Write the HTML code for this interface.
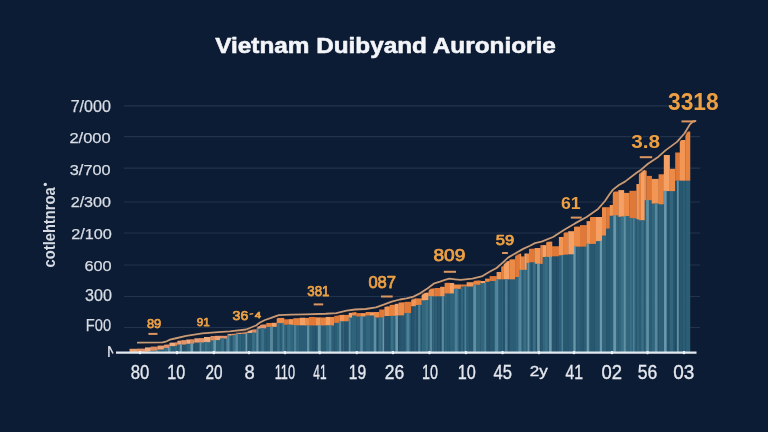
<!DOCTYPE html>
<html><head><meta charset="utf-8"><style>
html,body{margin:0;padding:0;background:#0d1c35;width:768px;height:432px;overflow:hidden}
svg{display:block;filter:blur(0.3px)}
text{font-family:"Liberation Sans",sans-serif}
.tt{fill:#f3f5f9;stroke:#f3f5f9;stroke-width:0.6px;stroke-linejoin:round}
.yl{fill:#d8dde5;stroke:#d8dde5;stroke-width:0.25px}
.xl{fill:#e4e8ee;stroke:#e4e8ee;stroke-width:0.35px}
.ol{fill:#eda043;stroke:#0d1c35;stroke-width:2.5px;paint-order:stroke;stroke-linejoin:round}
.rl{fill:#d6dbe3}
.olr{fill:#eda043;stroke:#eda043;stroke-width:0.75px;stroke-linejoin:round}
</style></head><body>
<svg width="768" height="432" viewBox="0 0 768 432">
<rect width="768" height="432" fill="#0d1c35"/>
<line x1="124" y1="105.8" x2="700" y2="105.8" stroke="#22334d" stroke-width="1.2"/>
<line x1="124" y1="136.6" x2="700" y2="136.6" stroke="#22334d" stroke-width="1.2"/>
<line x1="124" y1="168.2" x2="700" y2="168.2" stroke="#22334d" stroke-width="1.2"/>
<line x1="124" y1="202" x2="700" y2="202" stroke="#22334d" stroke-width="1.2"/>
<line x1="124" y1="233" x2="700" y2="233" stroke="#22334d" stroke-width="1.2"/>
<line x1="124" y1="265" x2="700" y2="265" stroke="#22334d" stroke-width="1.2"/>
<line x1="124" y1="296.5" x2="700" y2="296.5" stroke="#22334d" stroke-width="1.2"/>
<line x1="124" y1="327.5" x2="700" y2="327.5" stroke="#22334d" stroke-width="1.2"/>
<rect x="129.50" y="352.00" width="4.25" height="0.60" fill="#26526c"/>
<rect x="133.50" y="352.00" width="3.75" height="0.60" fill="#31667c"/>
<rect x="129.50" y="348.80" width="7.75" height="3.50" fill="#eaa070"/>
<rect x="137.00" y="352.00" width="4.25" height="0.60" fill="#26526c"/>
<rect x="141.00" y="352.00" width="4.25" height="0.60" fill="#26526c"/>
<rect x="137.00" y="348.60" width="8.25" height="3.70" fill="#e4946a"/>
<rect x="145.00" y="351.50" width="3.25" height="1.10" fill="#2e6379"/>
<rect x="148.00" y="351.50" width="2.95" height="1.10" fill="#26526c"/>
<rect x="145.00" y="347.40" width="5.95" height="4.40" fill="#f0aa7c"/>
<rect x="150.70" y="350.50" width="4.25" height="2.10" fill="#2c5f77"/>
<rect x="154.70" y="350.50" width="3.15" height="2.10" fill="#2e6379"/>
<rect x="150.70" y="346.60" width="7.15" height="4.20" fill="#dd8c60"/>
<rect x="157.60" y="349.30" width="2.75" height="3.30" fill="#31667c"/>
<rect x="160.10" y="349.30" width="4.05" height="3.30" fill="#2e6379"/>
<rect x="157.60" y="345.60" width="6.55" height="4.00" fill="#eaa070"/>
<rect x="163.90" y="347.80" width="2.75" height="4.80" fill="#26526c"/>
<rect x="166.40" y="347.80" width="3.25" height="4.80" fill="#2c5f77"/>
<rect x="163.90" y="344.50" width="5.75" height="3.60" fill="#e4946a"/>
<rect x="169.40" y="345.80" width="5.85" height="6.80" fill="#2b5e76"/>
<rect x="169.40" y="342.60" width="5.85" height="3.50" fill="#f0aa7c"/>
<rect x="175.00" y="345.50" width="2.55" height="7.10" fill="#31667c"/>
<rect x="175.00" y="342.30" width="2.55" height="3.50" fill="#dd8c60"/>
<rect x="177.30" y="344.30" width="4.45" height="8.30" fill="#2c5f77"/>
<rect x="177.30" y="340.60" width="4.45" height="4.00" fill="#eaa070"/>
<rect x="181.50" y="344.30" width="4.95" height="8.30" fill="#26526c"/>
<rect x="181.50" y="340.10" width="4.95" height="4.50" fill="#e4946a"/>
<rect x="186.20" y="343.50" width="4.05" height="9.10" fill="#2e6379"/>
<rect x="186.20" y="339.50" width="4.05" height="4.30" fill="#f0aa7c"/>
<rect x="190.00" y="343.50" width="4.55" height="9.10" fill="#2b5e76"/>
<rect x="190.00" y="339.30" width="4.55" height="4.50" fill="#dd8c60"/>
<rect x="194.30" y="342.30" width="4.95" height="10.30" fill="#26526c"/>
<rect x="194.30" y="338.30" width="4.95" height="4.30" fill="#eaa070"/>
<rect x="199.00" y="342.30" width="2.75" height="10.30" fill="#2b5e76"/>
<rect x="201.50" y="342.30" width="2.75" height="10.30" fill="#2e6379"/>
<rect x="199.00" y="338.10" width="5.25" height="4.50" fill="#e4946a"/>
<rect x="204.00" y="341.90" width="3.25" height="10.70" fill="#26526c"/>
<rect x="207.00" y="341.90" width="3.75" height="10.70" fill="#31667c"/>
<rect x="204.00" y="337.00" width="6.75" height="5.20" fill="#f0aa7c"/>
<rect x="210.50" y="340.00" width="4.75" height="12.60" fill="#31667c"/>
<rect x="210.50" y="336.00" width="4.75" height="4.30" fill="#dd8c60"/>
<rect x="215.00" y="339.80" width="5.25" height="12.80" fill="#2e6379"/>
<rect x="215.00" y="335.80" width="5.25" height="4.30" fill="#eaa070"/>
<rect x="220.00" y="338.30" width="4.75" height="14.30" fill="#2e6379"/>
<rect x="224.50" y="338.30" width="3.25" height="14.30" fill="#285870"/>
<rect x="220.00" y="335.80" width="7.75" height="2.80" fill="#e4946a"/>
<rect x="227.50" y="335.30" width="4.25" height="17.30" fill="#2b5e76"/>
<rect x="227.50" y="333.80" width="4.25" height="1.80" fill="#f0aa7c"/>
<rect x="231.50" y="335.10" width="4.55" height="17.50" fill="#2b5e76"/>
<rect x="231.50" y="333.40" width="4.55" height="2.00" fill="#dd8c60"/>
<rect x="235.80" y="333.70" width="4.25" height="18.90" fill="#2c5f77"/>
<rect x="239.80" y="333.70" width="1.95" height="18.90" fill="#31667c"/>
<rect x="235.80" y="331.80" width="5.95" height="2.20" fill="#eaa070"/>
<rect x="241.50" y="333.50" width="6.05" height="19.10" fill="#2b5e76"/>
<rect x="241.50" y="331.40" width="6.05" height="2.40" fill="#e4946a"/>
<rect x="247.30" y="332.70" width="4.95" height="19.90" fill="#285870"/>
<rect x="247.30" y="329.70" width="4.95" height="3.30" fill="#f0aa7c"/>
<rect x="252.00" y="332.50" width="4.95" height="20.10" fill="#2e6379"/>
<rect x="252.00" y="329.30" width="4.95" height="3.50" fill="#dd8c60"/>
<rect x="256.70" y="328.40" width="3.55" height="24.20" fill="#285870"/>
<rect x="256.70" y="326.00" width="3.55" height="2.70" fill="#eaa070"/>
<rect x="260.00" y="328.10" width="2.75" height="24.50" fill="#2b5e76"/>
<rect x="262.50" y="328.10" width="4.00" height="24.50" fill="#2b5e76"/>
<rect x="260.00" y="324.50" width="6.50" height="3.90" fill="#e4946a"/>
<rect x="266.25" y="326.60" width="5.50" height="26.00" fill="#2b5e76"/>
<rect x="266.25" y="323.00" width="5.50" height="3.90" fill="#e8823f"/>
<rect x="271.50" y="326.60" width="5.45" height="26.00" fill="#285870"/>
<rect x="271.50" y="322.80" width="5.45" height="4.10" fill="#f5a064"/>
<rect x="276.70" y="322.90" width="4.25" height="29.70" fill="#2b5e76"/>
<rect x="280.70" y="322.90" width="3.55" height="29.70" fill="#2c5f77"/>
<rect x="276.70" y="317.90" width="7.55" height="5.30" fill="#ec8a48"/>
<rect x="284.00" y="324.50" width="2.75" height="28.10" fill="#2e6379"/>
<rect x="286.50" y="324.50" width="2.35" height="28.10" fill="#2b5e76"/>
<rect x="284.00" y="319.30" width="4.85" height="5.50" fill="#e07838"/>
<rect x="288.60" y="324.50" width="4.95" height="28.10" fill="#31667c"/>
<rect x="288.60" y="319.10" width="4.95" height="5.70" fill="#f29656"/>
<rect x="293.30" y="325.00" width="6.55" height="27.60" fill="#31667c"/>
<rect x="293.30" y="318.20" width="6.55" height="7.10" fill="#e8823f"/>
<rect x="299.60" y="325.00" width="5.65" height="27.60" fill="#2b5e76"/>
<rect x="299.60" y="317.70" width="5.65" height="7.60" fill="#f5a064"/>
<rect x="305.00" y="325.20" width="4.25" height="27.40" fill="#2c5f77"/>
<rect x="305.00" y="317.90" width="4.25" height="7.60" fill="#ec8a48"/>
<rect x="309.00" y="325.20" width="3.25" height="27.40" fill="#2c5f77"/>
<rect x="312.00" y="325.20" width="3.65" height="27.40" fill="#285870"/>
<rect x="309.00" y="316.90" width="6.65" height="8.60" fill="#e07838"/>
<rect x="315.40" y="325.20" width="2.75" height="27.40" fill="#285870"/>
<rect x="317.90" y="325.20" width="2.95" height="27.40" fill="#2b5e76"/>
<rect x="315.40" y="317.40" width="5.45" height="8.10" fill="#f29656"/>
<rect x="320.60" y="325.20" width="5.45" height="27.40" fill="#2b5e76"/>
<rect x="320.60" y="317.50" width="5.45" height="8.00" fill="#e8823f"/>
<rect x="325.80" y="325.20" width="4.45" height="27.40" fill="#2e6379"/>
<rect x="325.80" y="316.90" width="4.45" height="8.60" fill="#f5a064"/>
<rect x="330.00" y="325.20" width="4.45" height="27.40" fill="#2b5e76"/>
<rect x="330.00" y="317.00" width="4.45" height="8.50" fill="#ec8a48"/>
<rect x="334.20" y="322.60" width="2.75" height="30.00" fill="#2b5e76"/>
<rect x="336.70" y="322.60" width="2.95" height="30.00" fill="#31667c"/>
<rect x="334.20" y="315.30" width="5.45" height="7.60" fill="#e07838"/>
<rect x="339.40" y="321.00" width="3.25" height="31.60" fill="#2c5f77"/>
<rect x="342.40" y="321.00" width="1.85" height="31.60" fill="#2e6379"/>
<rect x="339.40" y="314.80" width="4.85" height="6.50" fill="#f29656"/>
<rect x="344.00" y="321.00" width="5.00" height="31.60" fill="#26526c"/>
<rect x="344.00" y="314.90" width="5.00" height="6.40" fill="#e8823f"/>
<rect x="348.75" y="317.40" width="3.50" height="35.20" fill="#2c5f77"/>
<rect x="348.75" y="312.60" width="3.50" height="5.10" fill="#f5a064"/>
<rect x="352.00" y="315.20" width="4.50" height="37.40" fill="#2e6379"/>
<rect x="352.00" y="312.00" width="4.50" height="3.50" fill="#ec8a48"/>
<rect x="356.25" y="316.25" width="5.00" height="36.35" fill="#2c5f77"/>
<rect x="356.25" y="313.10" width="5.00" height="3.45" fill="#e07838"/>
<rect x="361.00" y="316.25" width="4.85" height="36.35" fill="#2b5e76"/>
<rect x="361.00" y="313.10" width="4.85" height="3.45" fill="#f29656"/>
<rect x="365.60" y="315.20" width="4.65" height="37.40" fill="#31667c"/>
<rect x="365.60" y="312.00" width="4.65" height="3.50" fill="#e8823f"/>
<rect x="370.00" y="315.20" width="4.25" height="37.40" fill="#2b5e76"/>
<rect x="370.00" y="312.20" width="4.25" height="3.30" fill="#f5a064"/>
<rect x="374.00" y="317.30" width="3.75" height="35.30" fill="#26526c"/>
<rect x="377.50" y="317.30" width="1.95" height="35.30" fill="#2b5e76"/>
<rect x="374.00" y="312.00" width="5.45" height="5.60" fill="#ec8a48"/>
<rect x="379.20" y="317.30" width="3.25" height="35.30" fill="#2e6379"/>
<rect x="382.20" y="317.30" width="2.45" height="35.30" fill="#26526c"/>
<rect x="379.20" y="309.50" width="5.45" height="8.10" fill="#e07838"/>
<rect x="384.40" y="315.70" width="5.45" height="36.90" fill="#26526c"/>
<rect x="384.40" y="306.40" width="5.45" height="9.60" fill="#f29656"/>
<rect x="389.60" y="315.70" width="2.75" height="36.90" fill="#2b5e76"/>
<rect x="392.10" y="315.70" width="2.95" height="36.90" fill="#2e6379"/>
<rect x="389.60" y="304.80" width="5.45" height="11.20" fill="#e8823f"/>
<rect x="394.80" y="315.50" width="3.95" height="37.10" fill="#285870"/>
<rect x="394.80" y="303.80" width="3.95" height="12.00" fill="#f5a064"/>
<rect x="398.50" y="315.10" width="2.75" height="37.50" fill="#26526c"/>
<rect x="401.00" y="315.10" width="3.55" height="37.50" fill="#285870"/>
<rect x="398.50" y="302.40" width="6.05" height="13.00" fill="#ec8a48"/>
<rect x="404.30" y="312.80" width="4.25" height="39.80" fill="#2b5e76"/>
<rect x="408.30" y="312.80" width="3.15" height="39.80" fill="#2b5e76"/>
<rect x="404.30" y="301.80" width="7.15" height="11.30" fill="#e07838"/>
<rect x="411.20" y="305.90" width="3.25" height="46.70" fill="#26526c"/>
<rect x="414.20" y="305.90" width="1.85" height="46.70" fill="#2e6379"/>
<rect x="411.20" y="297.80" width="4.85" height="8.40" fill="#f29656"/>
<rect x="415.80" y="304.70" width="2.75" height="47.90" fill="#26526c"/>
<rect x="418.30" y="304.70" width="3.55" height="47.90" fill="#285870"/>
<rect x="415.80" y="298.40" width="6.05" height="6.60" fill="#e8823f"/>
<rect x="421.60" y="300.00" width="4.75" height="52.60" fill="#31667c"/>
<rect x="426.10" y="300.00" width="2.75" height="52.60" fill="#26526c"/>
<rect x="421.60" y="292.60" width="7.25" height="7.70" fill="#f5a064"/>
<rect x="428.60" y="296.00" width="4.25" height="56.60" fill="#26526c"/>
<rect x="432.60" y="296.00" width="2.05" height="56.60" fill="#31667c"/>
<rect x="428.60" y="288.50" width="6.05" height="7.80" fill="#ec8a48"/>
<rect x="434.40" y="296.00" width="3.25" height="56.60" fill="#2c5f77"/>
<rect x="437.40" y="296.00" width="2.95" height="56.60" fill="#285870"/>
<rect x="434.40" y="288.00" width="5.95" height="8.30" fill="#e07838"/>
<rect x="440.10" y="296.00" width="3.25" height="56.60" fill="#26526c"/>
<rect x="443.10" y="296.00" width="1.75" height="56.60" fill="#2c5f77"/>
<rect x="440.10" y="286.80" width="4.75" height="9.50" fill="#f29656"/>
<rect x="444.60" y="293.20" width="3.25" height="59.40" fill="#2e6379"/>
<rect x="447.60" y="293.20" width="1.95" height="59.40" fill="#2c5f77"/>
<rect x="444.60" y="282.80" width="4.95" height="10.70" fill="#e8823f"/>
<rect x="449.30" y="293.20" width="4.85" height="59.40" fill="#2e6379"/>
<rect x="449.30" y="283.00" width="4.85" height="10.50" fill="#f5a064"/>
<rect x="453.90" y="288.60" width="5.25" height="64.00" fill="#31667c"/>
<rect x="458.90" y="288.60" width="2.15" height="64.00" fill="#26526c"/>
<rect x="453.90" y="284.50" width="7.15" height="4.40" fill="#ec8a48"/>
<rect x="460.80" y="286.25" width="2.75" height="66.35" fill="#31667c"/>
<rect x="463.30" y="286.25" width="3.55" height="66.35" fill="#2b5e76"/>
<rect x="460.80" y="284.50" width="6.05" height="2.05" fill="#e07838"/>
<rect x="466.60" y="286.25" width="2.75" height="66.35" fill="#2b5e76"/>
<rect x="469.10" y="286.25" width="4.75" height="66.35" fill="#285870"/>
<rect x="466.60" y="282.20" width="7.25" height="4.35" fill="#f29656"/>
<rect x="473.60" y="284.50" width="3.25" height="68.10" fill="#2c5f77"/>
<rect x="476.60" y="284.50" width="4.15" height="68.10" fill="#31667c"/>
<rect x="473.60" y="280.50" width="7.15" height="4.30" fill="#e8823f"/>
<rect x="480.50" y="282.80" width="4.85" height="69.80" fill="#31667c"/>
<rect x="480.50" y="281.00" width="4.85" height="2.10" fill="#f5a064"/>
<rect x="485.10" y="281.50" width="4.75" height="71.10" fill="#26526c"/>
<rect x="485.10" y="278.60" width="4.75" height="3.20" fill="#ec8a48"/>
<rect x="489.60" y="280.70" width="4.25" height="71.90" fill="#285870"/>
<rect x="493.60" y="280.70" width="3.25" height="71.90" fill="#2e6379"/>
<rect x="489.60" y="276.10" width="7.25" height="4.90" fill="#e07838"/>
<rect x="496.60" y="279.00" width="4.85" height="73.60" fill="#2b5e76"/>
<rect x="496.60" y="272.00" width="4.85" height="7.30" fill="#f29656"/>
<rect x="501.20" y="279.00" width="2.55" height="73.60" fill="#2e6379"/>
<rect x="501.20" y="266.25" width="2.55" height="13.05" fill="#e8823f"/>
<rect x="503.50" y="279.00" width="4.25" height="73.60" fill="#26526c"/>
<rect x="507.50" y="279.00" width="2.05" height="73.60" fill="#26526c"/>
<rect x="503.50" y="261.00" width="6.05" height="18.30" fill="#f5a064"/>
<rect x="509.30" y="279.00" width="6.05" height="73.60" fill="#2b5e76"/>
<rect x="509.30" y="259.30" width="6.05" height="20.00" fill="#ec8a48"/>
<rect x="515.10" y="276.70" width="4.85" height="75.90" fill="#2e6379"/>
<rect x="515.10" y="253.50" width="4.85" height="23.50" fill="#e07838"/>
<rect x="519.70" y="269.70" width="1.45" height="82.90" fill="#2c5f77"/>
<rect x="519.70" y="253.50" width="1.45" height="16.50" fill="#f29656"/>
<rect x="520.90" y="269.70" width="3.75" height="82.90" fill="#2b5e76"/>
<rect x="520.90" y="256.40" width="3.75" height="13.60" fill="#e8823f"/>
<rect x="524.40" y="269.70" width="2.55" height="82.90" fill="#31667c"/>
<rect x="524.40" y="253.50" width="2.55" height="16.50" fill="#f5a064"/>
<rect x="526.70" y="262.80" width="2.55" height="89.80" fill="#2e6379"/>
<rect x="526.70" y="253.50" width="2.55" height="9.60" fill="#ec8a48"/>
<rect x="529.00" y="262.00" width="2.75" height="90.60" fill="#2b5e76"/>
<rect x="531.50" y="262.00" width="3.35" height="90.60" fill="#285870"/>
<rect x="529.00" y="248.70" width="5.85" height="13.60" fill="#e07838"/>
<rect x="534.60" y="263.60" width="3.75" height="89.00" fill="#26526c"/>
<rect x="538.10" y="263.60" width="2.55" height="89.00" fill="#2e6379"/>
<rect x="534.60" y="248.00" width="6.05" height="15.90" fill="#f29656"/>
<rect x="540.40" y="263.60" width="2.55" height="89.00" fill="#285870"/>
<rect x="540.40" y="245.10" width="2.55" height="18.80" fill="#e8823f"/>
<rect x="542.70" y="256.70" width="3.75" height="95.90" fill="#31667c"/>
<rect x="542.70" y="245.10" width="3.75" height="11.90" fill="#f5a064"/>
<rect x="546.20" y="256.70" width="3.75" height="95.90" fill="#2c5f77"/>
<rect x="549.70" y="256.70" width="2.55" height="95.90" fill="#2c5f77"/>
<rect x="546.20" y="241.60" width="6.05" height="15.40" fill="#ec8a48"/>
<rect x="552.00" y="256.00" width="4.75" height="96.60" fill="#26526c"/>
<rect x="556.50" y="256.00" width="2.65" height="96.60" fill="#26526c"/>
<rect x="552.00" y="246.25" width="7.15" height="10.05" fill="#e07838"/>
<rect x="558.90" y="255.00" width="2.75" height="97.60" fill="#2b5e76"/>
<rect x="561.40" y="255.00" width="2.45" height="97.60" fill="#285870"/>
<rect x="558.90" y="237.00" width="4.95" height="18.30" fill="#f29656"/>
<rect x="563.60" y="254.40" width="4.85" height="98.20" fill="#285870"/>
<rect x="563.60" y="232.40" width="4.85" height="22.30" fill="#e8823f"/>
<rect x="568.20" y="254.00" width="2.75" height="98.60" fill="#2b5e76"/>
<rect x="570.70" y="254.00" width="3.55" height="98.60" fill="#2c5f77"/>
<rect x="568.20" y="231.20" width="6.05" height="23.10" fill="#f5a064"/>
<rect x="574.00" y="246.40" width="2.75" height="106.20" fill="#31667c"/>
<rect x="576.50" y="246.40" width="3.75" height="106.20" fill="#2c5f77"/>
<rect x="574.00" y="226.60" width="6.25" height="20.10" fill="#ec8a48"/>
<rect x="580.00" y="246.40" width="3.75" height="106.20" fill="#285870"/>
<rect x="583.50" y="246.40" width="3.35" height="106.20" fill="#2b5e76"/>
<rect x="580.00" y="225.10" width="6.85" height="21.60" fill="#e07838"/>
<rect x="586.60" y="243.60" width="3.65" height="109.00" fill="#31667c"/>
<rect x="586.60" y="221.10" width="3.65" height="22.80" fill="#f29656"/>
<rect x="590.00" y="243.60" width="4.75" height="109.00" fill="#285870"/>
<rect x="594.50" y="243.60" width="1.75" height="109.00" fill="#2b5e76"/>
<rect x="590.00" y="217.00" width="6.25" height="26.90" fill="#e8823f"/>
<rect x="596.00" y="240.80" width="6.25" height="111.80" fill="#2c5f77"/>
<rect x="596.00" y="217.00" width="6.25" height="24.10" fill="#f5a064"/>
<rect x="602.00" y="235.30" width="4.35" height="117.30" fill="#2e6379"/>
<rect x="602.00" y="207.20" width="4.35" height="28.40" fill="#ec8a48"/>
<rect x="606.10" y="228.30" width="3.85" height="124.30" fill="#285870"/>
<rect x="606.10" y="207.20" width="3.85" height="21.40" fill="#e07838"/>
<rect x="609.70" y="215.50" width="3.35" height="137.10" fill="#2b5e76"/>
<rect x="609.70" y="205.00" width="3.35" height="10.80" fill="#f29656"/>
<rect x="612.80" y="215.10" width="5.75" height="137.50" fill="#31667c"/>
<rect x="612.80" y="191.50" width="5.75" height="23.90" fill="#e8823f"/>
<rect x="618.30" y="216.50" width="2.75" height="136.10" fill="#31667c"/>
<rect x="620.80" y="216.50" width="3.35" height="136.10" fill="#2b5e76"/>
<rect x="618.30" y="190.10" width="5.85" height="26.70" fill="#f5a064"/>
<rect x="623.90" y="215.80" width="5.75" height="136.80" fill="#31667c"/>
<rect x="623.90" y="192.90" width="5.75" height="23.20" fill="#ec8a48"/>
<rect x="629.40" y="217.90" width="4.75" height="134.70" fill="#2b5e76"/>
<rect x="633.90" y="217.90" width="2.75" height="134.70" fill="#2c5f77"/>
<rect x="629.40" y="190.80" width="7.25" height="27.40" fill="#e07838"/>
<rect x="636.40" y="219.00" width="2.75" height="133.60" fill="#31667c"/>
<rect x="636.40" y="184.00" width="2.75" height="35.30" fill="#f29656"/>
<rect x="638.90" y="220.00" width="2.35" height="132.60" fill="#2b5e76"/>
<rect x="638.90" y="171.50" width="2.35" height="48.80" fill="#e8823f"/>
<rect x="641.00" y="220.00" width="3.95" height="132.60" fill="#2b5e76"/>
<rect x="641.00" y="169.80" width="3.95" height="50.50" fill="#f5a064"/>
<rect x="644.70" y="199.90" width="1.95" height="152.70" fill="#2b5e76"/>
<rect x="644.70" y="170.50" width="1.95" height="29.70" fill="#ec8a48"/>
<rect x="646.40" y="199.90" width="5.55" height="152.70" fill="#2b5e76"/>
<rect x="646.40" y="175.90" width="5.55" height="24.30" fill="#e07838"/>
<rect x="651.70" y="203.30" width="3.75" height="149.30" fill="#31667c"/>
<rect x="655.20" y="203.30" width="3.65" height="149.30" fill="#285870"/>
<rect x="651.70" y="178.90" width="7.15" height="24.70" fill="#f29656"/>
<rect x="658.60" y="204.00" width="5.45" height="148.60" fill="#2c5f77"/>
<rect x="658.60" y="174.30" width="5.45" height="30.00" fill="#e8823f"/>
<rect x="663.80" y="190.80" width="6.05" height="161.80" fill="#26526c"/>
<rect x="663.80" y="155.00" width="6.05" height="36.10" fill="#f5a064"/>
<rect x="669.60" y="190.80" width="4.25" height="161.80" fill="#31667c"/>
<rect x="673.60" y="190.80" width="1.85" height="161.80" fill="#26526c"/>
<rect x="669.60" y="168.80" width="5.85" height="22.30" fill="#ec8a48"/>
<rect x="675.20" y="180.40" width="2.75" height="172.20" fill="#26526c"/>
<rect x="677.70" y="180.40" width="2.35" height="172.20" fill="#26526c"/>
<rect x="675.20" y="152.50" width="4.85" height="28.20" fill="#e07838"/>
<rect x="679.80" y="180.40" width="2.75" height="172.20" fill="#285870"/>
<rect x="682.30" y="180.40" width="3.35" height="172.20" fill="#2b5e76"/>
<rect x="679.80" y="140.00" width="5.85" height="40.70" fill="#f29656"/>
<rect x="685.40" y="180.40" width="4.85" height="172.20" fill="#2b5e76"/>
<rect x="685.40" y="131.50" width="4.85" height="49.20" fill="#e8823f"/>
<clipPath id="bc"><rect x="129.50" y="352.00" width="7.75" height="0.60"/><rect x="137.00" y="352.00" width="8.25" height="0.60"/><rect x="145.00" y="351.50" width="5.95" height="1.10"/><rect x="150.70" y="350.50" width="7.15" height="2.10"/><rect x="157.60" y="349.30" width="6.55" height="3.30"/><rect x="163.90" y="347.80" width="5.75" height="4.80"/><rect x="169.40" y="345.80" width="5.85" height="6.80"/><rect x="175.00" y="345.50" width="2.55" height="7.10"/><rect x="177.30" y="344.30" width="4.45" height="8.30"/><rect x="181.50" y="344.30" width="4.95" height="8.30"/><rect x="186.20" y="343.50" width="4.05" height="9.10"/><rect x="190.00" y="343.50" width="4.55" height="9.10"/><rect x="194.30" y="342.30" width="4.95" height="10.30"/><rect x="199.00" y="342.30" width="5.25" height="10.30"/><rect x="204.00" y="341.90" width="6.75" height="10.70"/><rect x="210.50" y="340.00" width="4.75" height="12.60"/><rect x="215.00" y="339.80" width="5.25" height="12.80"/><rect x="220.00" y="338.30" width="7.75" height="14.30"/><rect x="227.50" y="335.30" width="4.25" height="17.30"/><rect x="231.50" y="335.10" width="4.55" height="17.50"/><rect x="235.80" y="333.70" width="5.95" height="18.90"/><rect x="241.50" y="333.50" width="6.05" height="19.10"/><rect x="247.30" y="332.70" width="4.95" height="19.90"/><rect x="252.00" y="332.50" width="4.95" height="20.10"/><rect x="256.70" y="328.40" width="3.55" height="24.20"/><rect x="260.00" y="328.10" width="6.50" height="24.50"/><rect x="266.25" y="326.60" width="5.50" height="26.00"/><rect x="271.50" y="326.60" width="5.45" height="26.00"/><rect x="276.70" y="322.90" width="7.55" height="29.70"/><rect x="284.00" y="324.50" width="4.85" height="28.10"/><rect x="288.60" y="324.50" width="4.95" height="28.10"/><rect x="293.30" y="325.00" width="6.55" height="27.60"/><rect x="299.60" y="325.00" width="5.65" height="27.60"/><rect x="305.00" y="325.20" width="4.25" height="27.40"/><rect x="309.00" y="325.20" width="6.65" height="27.40"/><rect x="315.40" y="325.20" width="5.45" height="27.40"/><rect x="320.60" y="325.20" width="5.45" height="27.40"/><rect x="325.80" y="325.20" width="4.45" height="27.40"/><rect x="330.00" y="325.20" width="4.45" height="27.40"/><rect x="334.20" y="322.60" width="5.45" height="30.00"/><rect x="339.40" y="321.00" width="4.85" height="31.60"/><rect x="344.00" y="321.00" width="5.00" height="31.60"/><rect x="348.75" y="317.40" width="3.50" height="35.20"/><rect x="352.00" y="315.20" width="4.50" height="37.40"/><rect x="356.25" y="316.25" width="5.00" height="36.35"/><rect x="361.00" y="316.25" width="4.85" height="36.35"/><rect x="365.60" y="315.20" width="4.65" height="37.40"/><rect x="370.00" y="315.20" width="4.25" height="37.40"/><rect x="374.00" y="317.30" width="5.45" height="35.30"/><rect x="379.20" y="317.30" width="5.45" height="35.30"/><rect x="384.40" y="315.70" width="5.45" height="36.90"/><rect x="389.60" y="315.70" width="5.45" height="36.90"/><rect x="394.80" y="315.50" width="3.95" height="37.10"/><rect x="398.50" y="315.10" width="6.05" height="37.50"/><rect x="404.30" y="312.80" width="7.15" height="39.80"/><rect x="411.20" y="305.90" width="4.85" height="46.70"/><rect x="415.80" y="304.70" width="6.05" height="47.90"/><rect x="421.60" y="300.00" width="7.25" height="52.60"/><rect x="428.60" y="296.00" width="6.05" height="56.60"/><rect x="434.40" y="296.00" width="5.95" height="56.60"/><rect x="440.10" y="296.00" width="4.75" height="56.60"/><rect x="444.60" y="293.20" width="4.95" height="59.40"/><rect x="449.30" y="293.20" width="4.85" height="59.40"/><rect x="453.90" y="288.60" width="7.15" height="64.00"/><rect x="460.80" y="286.25" width="6.05" height="66.35"/><rect x="466.60" y="286.25" width="7.25" height="66.35"/><rect x="473.60" y="284.50" width="7.15" height="68.10"/><rect x="480.50" y="282.80" width="4.85" height="69.80"/><rect x="485.10" y="281.50" width="4.75" height="71.10"/><rect x="489.60" y="280.70" width="7.25" height="71.90"/><rect x="496.60" y="279.00" width="4.85" height="73.60"/><rect x="501.20" y="279.00" width="2.55" height="73.60"/><rect x="503.50" y="279.00" width="6.05" height="73.60"/><rect x="509.30" y="279.00" width="6.05" height="73.60"/><rect x="515.10" y="276.70" width="4.85" height="75.90"/><rect x="519.70" y="269.70" width="1.45" height="82.90"/><rect x="520.90" y="269.70" width="3.75" height="82.90"/><rect x="524.40" y="269.70" width="2.55" height="82.90"/><rect x="526.70" y="262.80" width="2.55" height="89.80"/><rect x="529.00" y="262.00" width="5.85" height="90.60"/><rect x="534.60" y="263.60" width="6.05" height="89.00"/><rect x="540.40" y="263.60" width="2.55" height="89.00"/><rect x="542.70" y="256.70" width="3.75" height="95.90"/><rect x="546.20" y="256.70" width="6.05" height="95.90"/><rect x="552.00" y="256.00" width="7.15" height="96.60"/><rect x="558.90" y="255.00" width="4.95" height="97.60"/><rect x="563.60" y="254.40" width="4.85" height="98.20"/><rect x="568.20" y="254.00" width="6.05" height="98.60"/><rect x="574.00" y="246.40" width="6.25" height="106.20"/><rect x="580.00" y="246.40" width="6.85" height="106.20"/><rect x="586.60" y="243.60" width="3.65" height="109.00"/><rect x="590.00" y="243.60" width="6.25" height="109.00"/><rect x="596.00" y="240.80" width="6.25" height="111.80"/><rect x="602.00" y="235.30" width="4.35" height="117.30"/><rect x="606.10" y="228.30" width="3.85" height="124.30"/><rect x="609.70" y="215.50" width="3.35" height="137.10"/><rect x="612.80" y="215.10" width="5.75" height="137.50"/><rect x="618.30" y="216.50" width="5.85" height="136.10"/><rect x="623.90" y="215.80" width="5.75" height="136.80"/><rect x="629.40" y="217.90" width="7.25" height="134.70"/><rect x="636.40" y="219.00" width="2.75" height="133.60"/><rect x="638.90" y="220.00" width="2.35" height="132.60"/><rect x="641.00" y="220.00" width="3.95" height="132.60"/><rect x="644.70" y="199.90" width="1.95" height="152.70"/><rect x="646.40" y="199.90" width="5.55" height="152.70"/><rect x="651.70" y="203.30" width="7.15" height="149.30"/><rect x="658.60" y="204.00" width="5.45" height="148.60"/><rect x="663.80" y="190.80" width="6.05" height="161.80"/><rect x="669.60" y="190.80" width="5.85" height="161.80"/><rect x="675.20" y="180.40" width="4.85" height="172.20"/><rect x="679.80" y="180.40" width="5.85" height="172.20"/><rect x="685.40" y="180.40" width="4.85" height="172.20"/></clipPath>
<g clip-path="url(#bc)"><rect x="131.00" y="100" width="2.20" height="260" fill="#5f90a4"/><rect x="142.23" y="100" width="3.00" height="260" fill="#5689a0"/><rect x="148.16" y="100" width="2.92" height="260" fill="#3b7187"/><rect x="155.67" y="100" width="2.20" height="260" fill="#5689a0"/><rect x="164.44" y="100" width="2.49" height="260" fill="#3b7187"/><rect x="167.80" y="100" width="2.60" height="260" fill="#6a99ac"/><rect x="179.78" y="100" width="2.20" height="260" fill="#6a99ac"/><rect x="190.40" y="100" width="2.60" height="260" fill="#6a99ac"/><rect x="199.65" y="100" width="1.80" height="260" fill="#5f90a4"/><rect x="204.58" y="100" width="2.68" height="260" fill="#3b7187"/><rect x="213.37" y="100" width="2.60" height="260" fill="#6a99ac"/><rect x="221.13" y="100" width="3.01" height="260" fill="#3b7187"/><rect x="226.44" y="100" width="3.00" height="260" fill="#5689a0"/><rect x="233.11" y="100" width="2.06" height="260" fill="#3b7187"/><rect x="235.35" y="100" width="2.60" height="260" fill="#5689a0"/><rect x="245.55" y="100" width="1.80" height="260" fill="#6a99ac"/><rect x="252.22" y="100" width="2.40" height="260" fill="#3b7187"/><rect x="256.28" y="100" width="2.20" height="260" fill="#5f90a4"/><rect x="261.23" y="100" width="2.80" height="260" fill="#3b7187"/><rect x="270.19" y="100" width="2.60" height="260" fill="#5f90a4"/><rect x="277.29" y="100" width="2.27" height="260" fill="#3b7187"/><rect x="282.46" y="100" width="1.80" height="260" fill="#4c8098"/><rect x="287.26" y="100" width="3.17" height="260" fill="#3b7187"/><rect x="293.90" y="100" width="2.20" height="260" fill="#4c8098"/><rect x="307.07" y="100" width="2.20" height="260" fill="#5f90a4"/><rect x="317.82" y="100" width="3.00" height="260" fill="#6a99ac"/><rect x="326.35" y="100" width="2.01" height="260" fill="#3b7187"/><rect x="328.80" y="100" width="2.60" height="260" fill="#4c8098"/><rect x="339.10" y="100" width="1.80" height="260" fill="#5f90a4"/><rect x="348.77" y="100" width="1.80" height="260" fill="#5689a0"/><rect x="360.22" y="100" width="2.60" height="260" fill="#5689a0"/><rect x="373.73" y="100" width="2.60" height="260" fill="#5f90a4"/><rect x="379.05" y="100" width="2.41" height="260" fill="#3b7187"/><rect x="382.43" y="100" width="1.80" height="260" fill="#6a99ac"/><rect x="390.99" y="100" width="2.26" height="260" fill="#3b7187"/><rect x="395.38" y="100" width="2.60" height="260" fill="#6a99ac"/><rect x="406.47" y="100" width="3.00" height="260" fill="#4c8098"/><rect x="418.16" y="100" width="2.20" height="260" fill="#4c8098"/><rect x="425.56" y="100" width="2.96" height="260" fill="#3b7187"/><rect x="429.55" y="100" width="2.60" height="260" fill="#5689a0"/><rect x="441.74" y="100" width="2.20" height="260" fill="#5689a0"/><rect x="454.92" y="100" width="2.60" height="260" fill="#4c8098"/><rect x="464.53" y="100" width="1.80" height="260" fill="#4c8098"/><rect x="473.18" y="100" width="3.00" height="260" fill="#5f90a4"/><rect x="484.38" y="100" width="1.80" height="260" fill="#4c8098"/><rect x="495.16" y="100" width="3.00" height="260" fill="#5689a0"/><rect x="505.01" y="100" width="2.60" height="260" fill="#4c8098"/><rect x="518.47" y="100" width="3.00" height="260" fill="#5689a0"/><rect x="523.53" y="100" width="2.39" height="260" fill="#3b7187"/><rect x="527.57" y="100" width="1.80" height="260" fill="#5f90a4"/><rect x="533.13" y="100" width="2.48" height="260" fill="#3b7187"/><rect x="537.13" y="100" width="2.60" height="260" fill="#6a99ac"/><rect x="545.32" y="100" width="2.18" height="260" fill="#3b7187"/><rect x="549.04" y="100" width="2.60" height="260" fill="#6a99ac"/><rect x="561.40" y="100" width="1.80" height="260" fill="#4c8098"/><rect x="573.38" y="100" width="2.20" height="260" fill="#6a99ac"/><rect x="586.63" y="100" width="2.20" height="260" fill="#6a99ac"/><rect x="599.81" y="100" width="2.20" height="260" fill="#6a99ac"/><rect x="613.35" y="100" width="2.60" height="260" fill="#6a99ac"/><rect x="620.93" y="100" width="2.33" height="260" fill="#3b7187"/><rect x="623.58" y="100" width="2.20" height="260" fill="#5f90a4"/><rect x="629.41" y="100" width="2.39" height="260" fill="#3b7187"/><rect x="632.82" y="100" width="1.80" height="260" fill="#4c8098"/><rect x="641.42" y="100" width="2.19" height="260" fill="#3b7187"/><rect x="645.90" y="100" width="3.00" height="260" fill="#5f90a4"/><rect x="654.92" y="100" width="2.60" height="260" fill="#5689a0"/><rect x="664.06" y="100" width="2.60" height="260" fill="#6a99ac"/><rect x="676.97" y="100" width="1.80" height="260" fill="#5f90a4"/></g>
<polyline points="137.8,344.3 162.5,344.0 166.7,342.90000000000003 170,341.20000000000005 175,340.1 186.2,337.40000000000003 202.4,335.0 218,333.8 230,333.0 246,331.1 256,327.1 260,324.1 265,321.6 270.4,319.8 278.75,316.70000000000005 291.25,316.20000000000005 305,315.90000000000003 325.8,315.35 336.25,314.8 346.7,312.20000000000005 355,311.1 365.6,310.6 376,309.0 384.4,305.90000000000003 391.7,303.3 400,301.1 406.6,300.0 413.5,298.20000000000005 420.5,294.70000000000005 427.4,290.1 434.4,284.90000000000003 440,283.20000000000005 445,281.40000000000003 449.3,280.3 455,280.90000000000003 460.8,281.5 472.4,280.3 481.7,278.0 485,276.0 490,273.1 496.6,269.6 502.4,264.40000000000003 508.1,259.20000000000005 515.1,255.1 523.2,250.5 530,247.29999999999998 535,244.7 541.6,243.2 553.1,238.6 564.7,231.1 575,225.0 586.6,218.6 598.1,210.5 605,202.6 610,195.1 613,191.2 619,186.6 625,183.2 636.6,174.4 640,172.2 648,165.29999999999998 658.5,158.29999999999998 665.5,152.0 677,143.5 684.4,135.1 690,125.89999999999999 692.8,123.1 695.5,122.6" fill="none" stroke="#101a2c" stroke-width="2.2" stroke-linejoin="round" opacity="0.75"/>
<polyline points="137.8,342.7 162.5,342.4 166.7,341.3 170,339.6 175,338.5 186.2,335.8 202.4,333.4 218,332.2 230,331.4 246,329.5 256,325.5 260,322.5 265,320 270.4,318.2 278.75,315.1 291.25,314.6 305,314.3 325.8,313.75 336.25,313.2 346.7,310.6 355,309.5 365.6,309 376,307.4 384.4,304.3 391.7,301.7 400,299.5 406.6,298.4 413.5,296.6 420.5,293.1 427.4,288.5 434.4,283.3 440,281.6 445,279.8 449.3,278.7 455,279.3 460.8,279.9 472.4,278.7 481.7,276.4 485,274.4 490,271.5 496.6,268 502.4,262.8 508.1,257.6 515.1,253.5 523.2,248.9 530,245.7 535,243.1 541.6,241.6 553.1,237 564.7,229.5 575,223.4 586.6,217 598.1,208.9 605,201 610,193.5 613,189.6 619,185 625,181.6 636.6,172.8 640,170.6 648,163.7 658.5,156.7 665.5,150.4 677,141.9 684.4,133.5 690,124.3 692.8,121.5 695.5,121" fill="none" stroke="#c89a76" stroke-width="1.8" stroke-linejoin="round" stroke-linecap="round"/>
<line x1="116" y1="352.6" x2="696.5" y2="352.6" stroke="#e3e9f1" stroke-width="2.4"/>
<rect x="138.8" y="351.0" width="2.4" height="3.2" rx="1" fill="#eef2f7"/>
<rect x="175.8" y="351.0" width="2.4" height="3.2" rx="1" fill="#eef2f7"/>
<rect x="212.60000000000002" y="351.0" width="2.4" height="3.2" rx="1" fill="#eef2f7"/>
<rect x="247.8" y="351.0" width="2.4" height="3.2" rx="1" fill="#eef2f7"/>
<rect x="283.8" y="351.0" width="2.4" height="3.2" rx="1" fill="#eef2f7"/>
<rect x="318.6" y="351.0" width="2.4" height="3.2" rx="1" fill="#eef2f7"/>
<rect x="355.6" y="351.0" width="2.4" height="3.2" rx="1" fill="#eef2f7"/>
<rect x="391.8" y="351.0" width="2.4" height="3.2" rx="1" fill="#eef2f7"/>
<rect x="428.2" y="351.0" width="2.4" height="3.2" rx="1" fill="#eef2f7"/>
<rect x="464.7" y="351.0" width="2.4" height="3.2" rx="1" fill="#eef2f7"/>
<rect x="501.40000000000003" y="351.0" width="2.4" height="3.2" rx="1" fill="#eef2f7"/>
<rect x="537.8" y="351.0" width="2.4" height="3.2" rx="1" fill="#eef2f7"/>
<rect x="572.8" y="351.0" width="2.4" height="3.2" rx="1" fill="#eef2f7"/>
<rect x="610.8" y="351.0" width="2.4" height="3.2" rx="1" fill="#eef2f7"/>
<rect x="646.4" y="351.0" width="2.4" height="3.2" rx="1" fill="#eef2f7"/>
<rect x="682.8" y="351.0" width="2.4" height="3.2" rx="1" fill="#eef2f7"/>
<path d="M108.9 346 L108.9 357 M109.5 346.5 L113 353.5" stroke="#d8dde6" stroke-width="1.6" fill="none"/>
<text x="215.32" y="52.78" class="tt" font-size="22.85" font-weight="bold" textLength="340.41" lengthAdjust="spacingAndGlyphs">Vietnam Duibyand Auroniorie</text>
<text x="70.66" y="112.38" class="yl" font-size="15.95" textLength="40.32" lengthAdjust="spacingAndGlyphs">7/000</text>
<text x="69.45" y="142.86" class="yl" font-size="14.77" textLength="41.21" lengthAdjust="spacingAndGlyphs">2/000</text>
<text x="69.81" y="175.38" class="yl" font-size="15.54" textLength="40.77" lengthAdjust="spacingAndGlyphs">3/700</text>
<text x="70.71" y="206.86" class="yl" font-size="14.77" textLength="40.23" lengthAdjust="spacingAndGlyphs">2/300</text>
<text x="71.20" y="238.80" class="yl" font-size="14.77" textLength="40.68" lengthAdjust="spacingAndGlyphs">2/100</text>
<text x="84.42" y="271.32" class="yl" font-size="15.45" textLength="27.28" lengthAdjust="spacingAndGlyphs">600</text>
<text x="85.09" y="301.34" class="yl" font-size="16.63" textLength="26.89" lengthAdjust="spacingAndGlyphs">300</text>
<text x="85.77" y="331.32" class="yl" font-size="15.98" textLength="25.31" lengthAdjust="spacingAndGlyphs">F00</text>
<text x="130.82" y="378.78" class="xl" font-size="20.18" textLength="18.55" lengthAdjust="spacingAndGlyphs">80</text>
<text x="167.25" y="378.78" class="xl" font-size="20.18" textLength="17.94" lengthAdjust="spacingAndGlyphs">10</text>
<text x="205.44" y="378.78" class="xl" font-size="20.18" textLength="17.09" lengthAdjust="spacingAndGlyphs">20</text>
<text x="244.44" y="378.78" class="xl" font-size="20.18" textLength="10.21" lengthAdjust="spacingAndGlyphs">8</text>
<text x="274.72" y="378.78" class="xl" font-size="20.18" textLength="20.29" lengthAdjust="spacingAndGlyphs">110</text>
<text x="313.30" y="378.78" class="xl" font-size="20.18" textLength="13.23" lengthAdjust="spacingAndGlyphs">41</text>
<text x="348.72" y="378.78" class="xl" font-size="20.18" textLength="17.37" lengthAdjust="spacingAndGlyphs">19</text>
<text x="384.86" y="378.78" class="xl" font-size="20.18" textLength="19.47" lengthAdjust="spacingAndGlyphs">26</text>
<text x="422.07" y="378.78" class="xl" font-size="20.18" textLength="15.93" lengthAdjust="spacingAndGlyphs">10</text>
<text x="457.77" y="378.78" class="xl" font-size="20.18" textLength="18.07" lengthAdjust="spacingAndGlyphs">10</text>
<text x="493.43" y="378.78" class="xl" font-size="20.18" textLength="18.44" lengthAdjust="spacingAndGlyphs">45</text>
<text x="529.83" y="376.08" class="xl" font-size="15.25" textLength="18.05" lengthAdjust="spacingAndGlyphs">2y</text>
<text x="565.44" y="378.78" class="xl" font-size="20.18" textLength="17.56" lengthAdjust="spacingAndGlyphs">41</text>
<text x="601.51" y="378.78" class="xl" font-size="20.18" textLength="20.49" lengthAdjust="spacingAndGlyphs">02</text>
<text x="637.68" y="378.78" class="xl" font-size="20.18" textLength="19.55" lengthAdjust="spacingAndGlyphs">56</text>
<text x="673.30" y="378.78" class="xl" font-size="20.18" textLength="21.07" lengthAdjust="spacingAndGlyphs">03</text>
<text x="146.96" y="327.96" class="olr" font-size="13.52" textLength="14.33" lengthAdjust="spacingAndGlyphs">89</text>
<text x="196.79" y="325.96" class="olr" font-size="11.74" textLength="13.06" lengthAdjust="spacingAndGlyphs">91</text>
<text x="232.53" y="320.30" class="olr" font-size="13.26" textLength="15.75" lengthAdjust="spacingAndGlyphs">36</text>
<text x="254.79" y="317.98" class="olr" font-size="9.44" textLength="6.34" lengthAdjust="spacingAndGlyphs">4</text>
<text x="307.26" y="295.96" class="olr" font-size="14.07" textLength="22.16" lengthAdjust="spacingAndGlyphs">381</text>
<text x="368.42" y="287.96" class="olr" font-size="16.34" textLength="27.65" lengthAdjust="spacingAndGlyphs">087</text>
<text x="433.45" y="260.96" class="olr" font-size="16.34" textLength="31.85" lengthAdjust="spacingAndGlyphs">809</text>
<text x="495.80" y="244.52" class="olr" font-size="13.86" textLength="18.41" lengthAdjust="spacingAndGlyphs">59</text>
<text x="560.92" y="208.66" class="ol" font-size="17.01" font-weight="bold" textLength="19.74" lengthAdjust="spacingAndGlyphs">61</text>
<text x="631.19" y="148.04" class="ol" font-size="19.22" font-weight="bold" textLength="28.87" lengthAdjust="spacingAndGlyphs">3.8</text>
<text x="667.99" y="110.30" class="ol" font-size="24.79" font-weight="bold" textLength="50.71" lengthAdjust="spacingAndGlyphs">3318</text>
<line x1="249.6" y1="314.2" x2="253.2" y2="313.6" stroke="#eda043" stroke-width="1.4"/>
<line x1="148.4" y1="333.9" x2="157.5" y2="333.9" stroke="#dc9660" stroke-width="2"/>
<line x1="313.7" y1="304.4" x2="323.2" y2="304.4" stroke="#dc9660" stroke-width="2"/>
<line x1="381.0" y1="296.5" x2="392.7" y2="296.5" stroke="#dc9660" stroke-width="2"/>
<line x1="443.8" y1="271.8" x2="456.0" y2="271.8" stroke="#dc9660" stroke-width="2"/>
<line x1="502.1" y1="253" x2="507.9" y2="253" stroke="#dc9660" stroke-width="2"/>
<line x1="570.8" y1="217.6" x2="581.7" y2="217.6" stroke="#dc9660" stroke-width="2"/>
<line x1="639.8" y1="157.2" x2="652.2" y2="157.2" stroke="#dc9660" stroke-width="2"/>
<line x1="681.5" y1="121.4" x2="694.9000000000001" y2="121.4" stroke="#dc9660" stroke-width="2"/>
<text transform="translate(55.0,267.4) rotate(-90)" class="rl" font-size="17" font-weight="bold" textLength="80" lengthAdjust="spacingAndGlyphs">cotlehtnroa</text>
<circle cx="45.3" cy="184.4" r="1.7" fill="#d6dbe3"/>
</svg>
</body></html>
